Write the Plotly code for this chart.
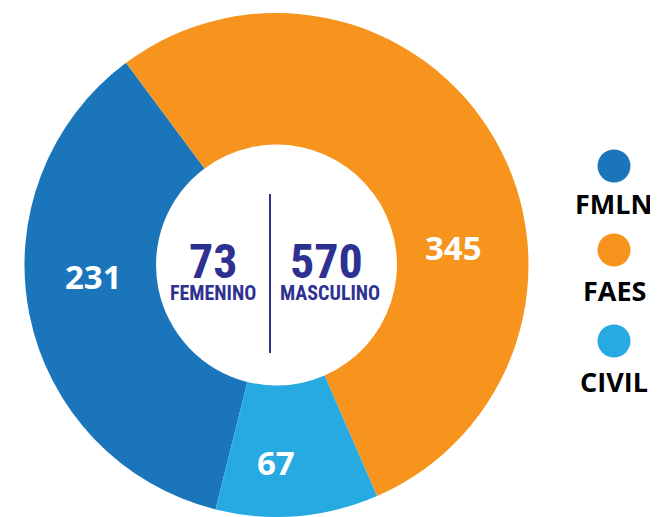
import plotly.graph_objects as go

# data
groups = ["FMLN", "FAES", "CIVIL"]
counts = [231, 345, 67]
colors = ["#1B75BB", "#F7941D", "#27AAE1"]

sex_labels = ["FEMENINO", "MASCULINO"]
sex_counts = [73, 570]

# the page body keeps its default 8px margin, so the figure is 8px smaller
OFF = 8
W, H = 658 - OFF, 517 - OFF
NAVY = "#2E3192"
NARROW = "Roboto Condensed, Liberation Sans Narrow, sans-serif"
BOLD = "Open Sans, Lato, sans-serif"


def px(x, y):
    # window pixel position -> paper coordinates
    return (x - OFF) / W, 1 - (y - OFF) / H


def label(x, y, text, font, h=None):
    xp, yp = px(x, y)
    fig.add_annotation(x=xp, y=yp, xref="paper", yref="paper", text=text, height=h,
                       xanchor="center", yanchor="middle", showarrow=False, font=font)


fig = go.Figure()

# pie: centre (276.5, 265), radius 252 in window pixels
cx, cy, rad = 276.5, 265, 252
fig.add_trace(go.Pie(
    labels=groups,
    values=counts,
    marker=dict(colors=colors, line=dict(width=0)),
    hole=0.478,
    sort=False,
    direction="clockwise",
    rotation=194,
    textinfo="none",
    hoverinfo="label+value",
    showlegend=False,
    domain=dict(x=[px(cx - rad, 0)[0], px(cx + rad, 0)[0]],
                y=[max(px(0, cy + rad)[1], 0), min(px(0, cy - rad)[1], 1)]),
))

# value labels on the ring
label_pos = [(93, 276), (453, 247), (276, 462)]
for val, (x, y) in zip(counts, label_pos):
    label(x, y, f"<b>{val}</b>", dict(family=BOLD, size=33, color="white"))

# centre: femenino / masculino
for lab, val, (xn, xl) in zip(sex_labels, sex_counts, [(213, 213), (326, 330)]):
    label(xn, 261, f"<b>{val}</b>", dict(family=NARROW, size=48, color=NAVY), h=40)
    label(xl, 293, f"<b>{lab}</b>", dict(family=NARROW, size=20, color=NAVY), h=18)

x0, y0 = px(270, 194)
x1, y1 = px(270, 353)
fig.add_shape(type="line", xref="paper", yref="paper", x0=x0, x1=x1, y0=y0, y1=y1,
              line=dict(color=NAVY, width=2))

# custom legend: dot above label
legend_pos = [(166, 613, 204), (250, 614, 290), (341, 614, 381)]
r = 16.5
for name, col, (ccy, tx, ty) in zip(groups, colors, legend_pos):
    xa, ya = px(614 - r, ccy + r)
    xb, yb = px(614 + r, ccy - r)
    fig.add_shape(type="circle", xref="paper", yref="paper",
                  x0=xa, x1=xb, y0=ya, y1=yb,
                  fillcolor=col, line=dict(width=0))
    label(tx, ty, f"<b>{name}</b>", dict(family=BOLD, size=27, color="black"))

fig.update_layout(
    width=W, height=H,
    margin=dict(l=0, r=0, t=0, b=0),
    paper_bgcolor="white",
    plot_bgcolor="white",
)

fig.write_html("out.html")
